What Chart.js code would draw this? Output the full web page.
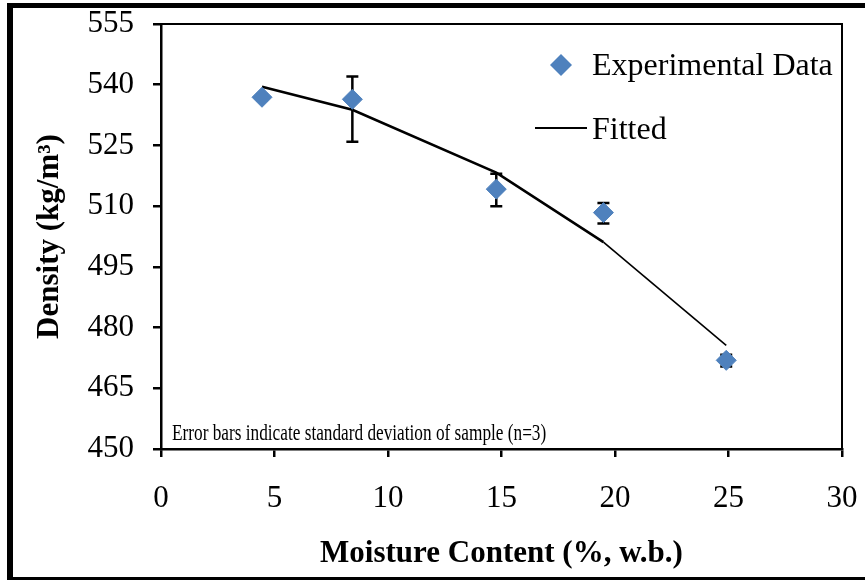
<!DOCTYPE html>
<html>
<head>
<meta charset="utf-8">
<script src="https://cdn.jsdelivr.net/npm/chart.js@4.4.0/dist/chart.umd.min.js"></script>
<style>
  body { margin: 0; background: #fff; }
  canvas { display: block; }
</style>
</head>
<body>
<canvas id="densityChart" width="865" height="581"></canvas>
<script>
// moisture content (%, w.b.) and measured density (kg/m3)
let moisture = [4.45, 8.43, 14.77, 19.49, 24.9];
let density = [536.9, 536.4, 514.2, 508.4, 471.9];
// error bar ends (standard deviation, n=3)
let errHigh = [537.6, 542.0, 518.0, 510.8, 473.3];
let errLow = [536.2, 525.9, 510.0, 505.7, 470.4];
// fitted curve
let fitX = [4.45, 8.43, 14.77, 19.49, 24.9];
let fitY = [539.5, 533.8, 518.3, 501.1, 475.6];

let xTicks = [0, 5, 10, 15, 20, 25, 30];
let yTicks = [450, 465, 480, 495, 510, 525, 540, 555];

const serif = "'Liberation Serif', 'Times New Roman', serif";
const blue = '#4F81BD';

// error bars, drawn under the diamonds
const errorBars = {
  id: 'errorBars',
  beforeDatasetsDraw(chart) {
    const ctx = chart.ctx;
    const xs = chart.scales.x, ys = chart.scales.y;
    ctx.save();
    ctx.strokeStyle = '#000';
    ctx.lineWidth = 2.5;
    for (let i = 0; i < moisture.length; i++) {
      let px = xs.getPixelForValue(moisture[i]);
      let top = ys.getPixelForValue(errHigh[i]);
      let bot = ys.getPixelForValue(errLow[i]);
      ctx.beginPath();
      ctx.moveTo(px, top); ctx.lineTo(px, bot);
      ctx.moveTo(px - 6, top); ctx.lineTo(px + 6, top);
      ctx.moveTo(px - 6, bot); ctx.lineTo(px + 6, bot);
      ctx.stroke();
    }
    ctx.restore();
  }
};

// box on top/right, legend, note and outer frame
const extras = {
  id: 'extras',
  afterDraw(chart) {
    const ctx = chart.ctx;
    const a = chart.chartArea;
    ctx.save();
    ctx.strokeStyle = '#000';
    ctx.lineWidth = 2;
    ctx.beginPath();
    ctx.moveTo(a.left, a.top); ctx.lineTo(a.right, a.top); ctx.lineTo(a.right, a.bottom);
    ctx.stroke();

    // legend
    ctx.fillStyle = blue;
    ctx.beginPath();
    ctx.moveTo(561, 54); ctx.lineTo(572, 65); ctx.lineTo(561, 76); ctx.lineTo(550, 65);
    ctx.closePath();
    ctx.fill();
    ctx.lineWidth = 2;
    ctx.beginPath();
    ctx.moveTo(535, 128); ctx.lineTo(587, 128);
    ctx.stroke();
    ctx.fillStyle = '#000';
    ctx.font = '32px ' + serif;
    ctx.textBaseline = 'alphabetic';
    ctx.fillText('Experimental Data', 592, 75);
    ctx.fillText('Fitted', 592, 139);

    // note, condensed like the original
    ctx.save();
    ctx.translate(172, 440);
    ctx.scale(0.75, 1);
    ctx.font = '23px ' + serif;
    ctx.fillText('Error bars indicate standard deviation of sample (n=3)', 0, 0);
    ctx.restore();

    // outer frame
    ctx.fillRect(7, 3, 6, 577);
    ctx.fillRect(7, 3, 858, 5);
    ctx.fillRect(7, 577, 858, 3);
    ctx.restore();
  }
};

let ctx1 = document.getElementById('densityChart').getContext('2d');
let chart1 = new Chart(ctx1, {
  type: 'scatter',
  data: {
    datasets: [
      {
        label: 'Experimental Data',
        data: moisture.map((m, i) => ({ x: m, y: density[i] })),
        pointStyle: 'rectRot',
        pointRadius: 10,
        pointHoverRadius: 10,
        backgroundColor: blue,
        borderColor: blue,
        borderWidth: 1
      },
      {
        label: 'Fitted',
        data: fitX.map((m, i) => ({ x: m, y: fitY[i] })),
        showLine: true,
        tension: 0,
        pointRadius: 0,
        borderColor: '#000',
        borderWidth: 2.2,
        segment: {
          borderWidth: c => c.p0DataIndex >= 3 ? 1.6 : 2.6
        }
      }
    ]
  },
  options: {
    responsive: false,
    devicePixelRatio: 1,
    animation: false,
    layout: { padding: { top: 24, right: 23, left: 0, bottom: 0 } },
    plugins: {
      legend: { display: false },
      tooltip: { enabled: false }
    },
    scales: {
      x: {
        type: 'linear',
        min: 0, max: 30,
        afterFit: s => { s.height = 132; s.paddingLeft = 0; s.paddingRight = 0; },
        afterBuildTicks: s => { s.ticks = xTicks.map(v => ({ value: v })); },
        grid: { drawOnChartArea: false, drawTicks: true, tickLength: 8, color: '#000', lineWidth: 2.5 },
        border: { display: true, color: '#000', width: 2.5 },
        ticks: { color: '#000', padding: 23, font: { family: serif, size: 31 } },
        title: {
          display: true,
          text: 'Moisture Content (%, w.b.)',
          color: '#000',
          padding: { bottom: 8 },
          font: { family: serif, size: 31, weight: 'bold' }
        }
      },
      y: {
        type: 'linear',
        min: 450, max: 555,
        afterFit: s => { s.width = 161; s.paddingTop = 0; s.paddingBottom = 0; },
        afterBuildTicks: s => { s.ticks = yTicks.map(v => ({ value: v })); },
        grid: { drawOnChartArea: false, drawTicks: true, tickLength: 8, color: '#000', lineWidth: 2.5 },
        border: { display: true, color: '#000', width: 2.5 },
        ticks: { color: '#000', padding: 19, font: { family: serif, size: 31 } },
        title: {
          display: true,
          text: 'Density (kg/m³)',
          color: '#000',
          padding: { top: 31 },
          font: { family: serif, size: 31, weight: 'bold' }
        }
      }
    }
  },
  plugins: [errorBars, extras]
});
</script>
</body>
</html>
